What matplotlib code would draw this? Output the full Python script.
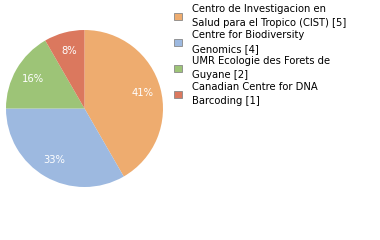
import matplotlib
matplotlib.use("Agg")
import matplotlib.pyplot as plt
from matplotlib.patches import Patch
import math

labels = ["Centro de Investigacion en\nSalud para el Tropico (CIST) [5]",
          "Centre for Biodiversity\nGenomics [4]",
          "UMR Ecologie des Forets de\nGuyane [2]",
          "Canadian Centre for DNA\nBarcoding [1]"]
values = [5, 4, 2, 1]
colors = ["#EEAC6F", "#9DB9E0", "#9DC477", "#DB785E"]

W, H = 380, 240
fig = plt.figure(figsize=(W/100, H/100), dpi=100)
ax = fig.add_axes([6/W, (240-187)/H, 157/W, 157/H])
ax.pie(values, colors=colors, startangle=90, counterclock=False,
       autopct=lambda p: f"{int(math.floor(p + 1e-9))}%", pctdistance=0.76,
       textprops=dict(color="white", fontsize=7.2),
       wedgeprops=dict(linewidth=0))
ax.set_aspect("equal")
ax.set_xlim(-1, 1)
ax.set_ylim(-1, 1)
ax.axis("off")

handles = [Patch(facecolor=c, edgecolor="#888888", linewidth=0.6) for c in colors]
leg = fig.legend(handles, labels, loc="upper left", bbox_to_anchor=(172/W, 1 - 2/H),
                 frameon=False, fontsize=7.2, handlelength=0.8, handleheight=0.8,
                 handletextpad=1.0, labelspacing=0.25, borderaxespad=0, borderpad=0.2)
for t in leg.get_texts():
    t.set_linespacing(1.45)
fig.savefig("out.png", dpi=100)
